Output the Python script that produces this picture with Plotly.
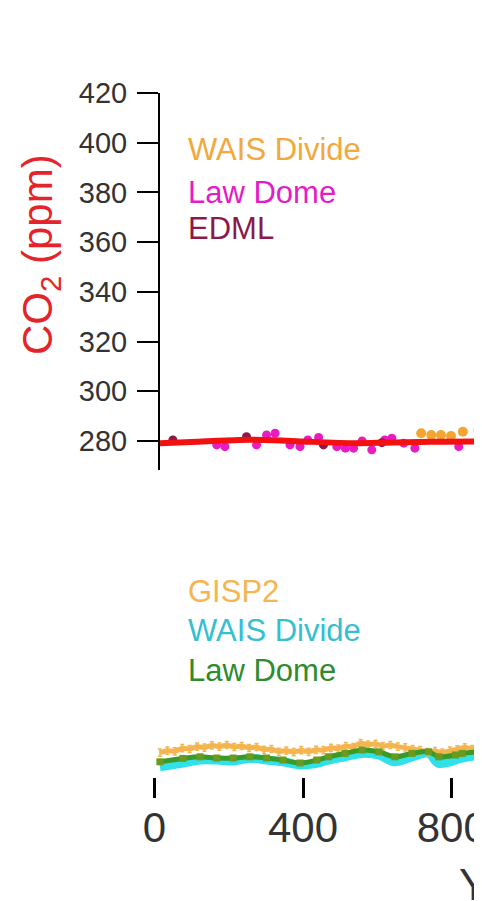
import plotly.graph_objects as go

# ---------------- data ----------------
# Top panel: CO2 (ppm)
law_dome_co2_years = [168, 190, 275, 302, 325, 365, 392, 413, 442, 491, 514, 536, 559, 585, 620, 639, 671, 701, 819]
law_dome_co2 = [278.4, 277.7, 278.4, 282.4, 283.1, 278.4, 277.7, 280.4, 281.4, 277.7, 277.1, 277.1, 280.0, 276.4, 280.4, 281.1, 279.1, 277.1, 277.7]
edml_years = [50, 248, 455, 612]
edml_co2 = [280.4, 281.7, 278.4, 279.3]
wais_co2_years = [718, 745, 771, 798, 830, 872]
wais_co2 = [283.1, 282.4, 282.4, 282.0, 283.7, 284.4]
spline_years = [15, 100, 230, 320, 410, 544, 620, 679, 780, 881]
spline_co2 = [279.1, 279.6, 280.4, 280.3, 279.7, 279.1, 279.3, 279.5, 279.7, 279.8]

# Bottom panel: CH4 (ppb)
gisp2_years = [15, 35, 55, 75, 95, 115, 135, 155, 175, 195, 215, 235, 255, 275, 295, 315, 335, 355,
               375, 395, 415, 435, 455, 475, 495, 515, 535, 555, 575, 595, 615, 635, 655, 675, 695,
               715, 735, 755, 775, 795, 815, 835, 855, 875]
gisp2_ch4 = [712, 722, 718, 734, 730, 742, 737, 748, 742, 750, 740, 745, 735, 740, 726, 730, 716, 722,
             714, 724, 716, 726, 724, 736, 732, 745, 740, 760, 752, 756, 744, 750, 742, 738, 730,
             724, 714, 720, 712, 722, 728, 738, 730, 736]
gisp2_err = [18] * len(gisp2_years)
law_dome_ch4_years = [15, 77, 123, 168, 212, 257, 302, 346, 392, 437, 469, 513, 559, 604, 647, 693, 738, 765, 810, 828, 873]
law_dome_ch4 = [666, 683, 691, 685, 685, 691, 685, 675, 660, 675, 691, 708, 725, 716, 691, 708, 716, 691, 700, 708, 716]
wais_ch4_years = [15, 77, 123, 168, 212, 257, 302, 346, 392, 437, 469, 513, 559, 604, 647, 693, 738, 765, 828, 873]
wais_ch4 = [641, 660, 675, 675, 670, 683, 675, 666, 650, 658, 675, 691, 708, 700, 666, 690, 708, 658, 685, 700]

co2_ticks = [280, 300, 320, 340, 360, 380, 400, 420]
year_ticks = [0, 400, 800, 1200, 1600, 2000]

W, H = 482, 901
OFF = 8  # page body margin
FONT = "Liberation Sans, Arial, sans-serif"

def px(x):
    return (x - OFF) / W

def py(y):
    return 1 - (y - OFF) / H

fig = go.Figure()

# ---- top panel ----
fig.add_trace(go.Scatter(x=law_dome_co2_years, y=law_dome_co2, mode="markers",
                         marker=dict(color="#E81CC0", size=9), xaxis="x", yaxis="y"))
fig.add_trace(go.Scatter(x=edml_years, y=edml_co2, mode="markers",
                         marker=dict(color="#8B1A4A", size=9), xaxis="x", yaxis="y"))
fig.add_trace(go.Scatter(x=wais_co2_years, y=wais_co2, mode="markers",
                         marker=dict(color="#F2A630", size=10), xaxis="x", yaxis="y"))
fig.add_trace(go.Scatter(x=spline_years, y=spline_co2, mode="lines",
                         line=dict(color="#F21010", width=6, shape="spline"), xaxis="x", yaxis="y"))

# ---- bottom panel ----
fig.add_trace(go.Scatter(x=wais_ch4_years, y=wais_ch4, mode="lines",
                         line=dict(color="#30E0EA", width=9, shape="spline"), xaxis="x2", yaxis="y2"))
fig.add_trace(go.Scatter(x=gisp2_years, y=gisp2_ch4, mode="lines",
                         line=dict(color="#F5B54E", width=5),
                         error_y=dict(type="data", array=gisp2_err, color="#F5B54E", thickness=1.5, width=2),
                         xaxis="x2", yaxis="y2"))
fig.add_trace(go.Scatter(x=law_dome_ch4_years, y=law_dome_ch4, mode="lines+markers",
                         line=dict(color="#3A9A26", width=5, shape="spline"),
                         marker=dict(symbol="square", size=7, color="#6A9A20"),
                         xaxis="x2", yaxis="y2"))

annotations = [
    dict(text="WAIS Divide", x=px(186), y=py(149), font=dict(color="#F2A83A", size=31)),
    dict(text="Law Dome", x=px(186), y=py(192), font=dict(color="#E61BC8", size=31)),
    dict(text="EDML", x=px(186), y=py(229), font=dict(color="#8B1A4B", size=31)),
    dict(text="GISP2", x=px(186), y=py(591), font=dict(color="#F5B553", size=31)),
    dict(text="WAIS Divide", x=px(186), y=py(630), font=dict(color="#35BFD0", size=31)),
    dict(text="Law Dome", x=px(186), y=py(670), font=dict(color="#2E8B2E", size=31)),
]
for a in annotations:
    a.update(xref="paper", yref="paper", showarrow=False, xanchor="left", yanchor="middle")
    a["font"]["family"] = FONT
    fig.add_annotation(**a)
fig.add_annotation(text="Year (CE)", x=px(457), y=py(884), xref="paper", yref="paper",
                   showarrow=False, xanchor="left", yanchor="middle",
                   font=dict(family=FONT, size=44, color="#333333"))
fig.add_annotation(text="CO<sub>2</sub> (ppm)", x=px(40), y=py(255), xref="paper", yref="paper",
                   showarrow=False, textangle=-90, xanchor="center", yanchor="middle",
                   font=dict(family=FONT, size=42, color="#E5232A"))

fig.update_layout(
    width=W, height=H,
    margin=dict(l=0, r=0, t=0, b=0, autoexpand=False),
    paper_bgcolor="white", plot_bgcolor="white",
    showlegend=False,
    font=dict(family=FONT),
    xaxis=dict(domain=[px(160), 1], range=[15.3, 15.3 + (W - 160 + OFF) * 400 / 148.7],
               visible=False, anchor="y", automargin=False),
    yaxis=dict(domain=[py(470), py(93)], range=[268.3, 420], tickvals=co2_ticks,
               ticks="outside", ticklen=21, tickwidth=2, tickcolor="black",
               showline=True, linecolor="black", linewidth=2, showgrid=False, zeroline=False,
               tickfont=dict(size=29, color="#333333"), ticklabelstandoff=4, anchor="x",
               automargin=False),
    xaxis2=dict(domain=[px(140), 1], range=[-38.5, -38.5 + (W - 140 + OFF) * 400 / 148.7],
                tickvals=year_ticks,
                ticks="outside", ticklen=20, tickwidth=3, tickcolor="black",
                showline=False, showgrid=False, zeroline=False, ticklabeloverflow="allow",
                tickfont=dict(family=FONT, size=42, color="#333333"), ticklabelstandoff=-6,
                anchor="y2", automargin=False),
    yaxis2=dict(domain=[py(777), py(557)], range=[590, 1690], visible=False, anchor="x2",
                automargin=False),
)

fig.write_html("out.html")
